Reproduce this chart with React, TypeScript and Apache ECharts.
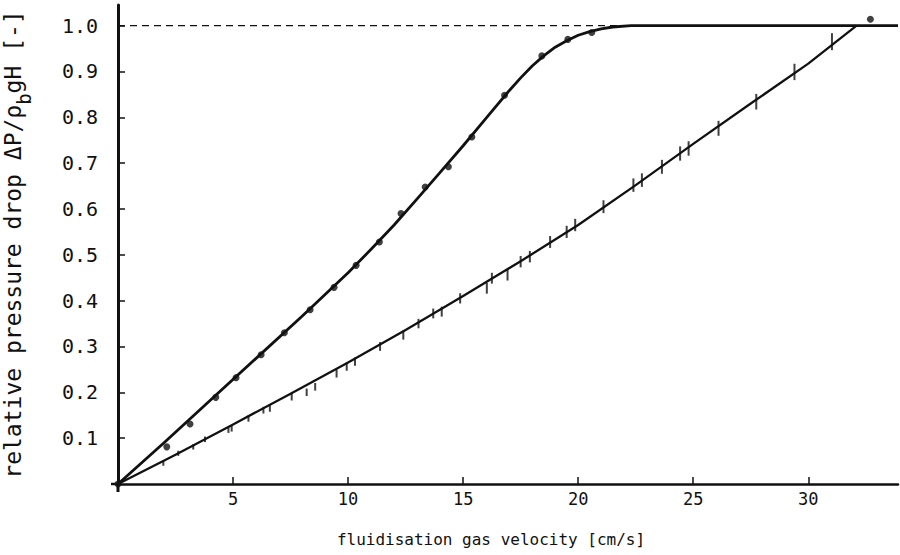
import { useEffect, useRef } from "react";
import * as echarts from "echarts";

// Axis tick positions
const velocityTicks = [5, 10, 15, 20, 25, 30];
const pressureTicks = [0.1, 0.2, 0.3, 0.4, 0.5, 0.6, 0.7, 0.8, 0.9, 1.0];

// Bed P: measured points (filled dots)
const pMeasuredVelocity = [0, 2.12, 3.13, 4.25, 5.13, 6.22, 7.23, 8.35, 9.39, 10.35, 11.36, 12.3, 13.35, 14.36, 15.38, 16.8, 18.42, 19.55, 20.59, 32.7];
const pMeasuredDrop = [0, 0.081, 0.131, 0.189, 0.232, 0.282, 0.33, 0.38, 0.429, 0.477, 0.528, 0.59, 0.648, 0.692, 0.757, 0.848, 0.934, 0.97, 0.985, 1.014];

// Bed P: drawn fit curve
const pCurveVelocity = [0, 2, 4, 6, 8, 10, 11, 12, 13, 14, 15, 16, 16.5, 17, 17.5, 18, 18.5, 19, 19.5, 20, 20.5, 21, 21.5, 22.3, 33.9];
const pCurveDrop = [0, 0.09, 0.182, 0.274, 0.366, 0.461, 0.512, 0.565, 0.622, 0.68, 0.738, 0.798, 0.828, 0.858, 0.886, 0.912, 0.934, 0.953, 0.967, 0.979, 0.987, 0.993, 0.997, 1.0, 1.0];

// Bed Q: measured points (short vertical bars)
const qMeasuredVelocity = [0, 1.97, 2.62, 3.27, 3.78, 4.8, 4.94, 5.67, 6.32, 6.6, 7.55, 8.2, 8.57, 9.5, 9.94, 10.3, 11.39, 12.4, 13.06, 13.7, 14.07, 14.87, 16.03, 16.25, 16.93, 17.5, 17.9, 18.78, 19.5, 19.87, 21.1, 22.4, 22.77, 23.64, 24.43, 24.8, 26.1, 27.74, 29.4, 31.03];
const qMeasuredDrop = [0, 0.045, 0.067, 0.081, 0.0975, 0.118, 0.121, 0.143, 0.161, 0.165, 0.19, 0.2, 0.212, 0.241, 0.256, 0.267, 0.3, 0.325, 0.35, 0.372, 0.376, 0.405, 0.427, 0.449, 0.456, 0.485, 0.496, 0.528, 0.55, 0.565, 0.605, 0.652, 0.663, 0.692, 0.721, 0.732, 0.776, 0.834, 0.899, 0.965];

// Bed Q: drawn fit curve
const qCurveVelocity = [0, 2.5, 5, 7.5, 10, 12.5, 15, 17.5, 20, 22.5, 25, 27.5, 30, 32.1];
const qCurveDrop = [0, 0.064, 0.13, 0.197, 0.265, 0.336, 0.41, 0.486, 0.565, 0.652, 0.742, 0.83, 0.917, 1.0];

// Full-bed-weight reference level (dashed up to where P levels off)
const fullWeightVelocity = [0, 22.3];
const fullWeightDrop = [1.0, 1.0];

const zip = (xs: number[], ys: number[]) => xs.map((x, i) => [x, ys[i]]);

export default function App() {
  const ref = useRef<HTMLDivElement>(null);

  useEffect(() => {
    if (!ref.current) return;
    const chart = echarts.init(ref.current, null, { renderer: "svg" });
    const font = "'DejaVu Sans Mono', 'Liberation Mono', monospace";
    const ink = "#111";
    const grid = { left: 118, right: 2, top: 5, bottom: 71, containLabel: false, outerBoundsMode: "none" };
    const originX = grid.left;
    const originY = 555 - grid.bottom;

    chart.setOption({
      animation: false,
      backgroundColor: "#fff",
      grid,
      // small overhangs of the two axis lines past the origin
      graphic: [
        { type: "line", shape: { x1: originX, y1: originY, x2: originX, y2: originY + 8 }, style: { stroke: ink, lineWidth: 3 } },
        { type: "line", shape: { x1: originX - 7, y1: originY, x2: originX, y2: originY }, style: { stroke: ink, lineWidth: 2.5 } },
      ],
      xAxis: {
        type: "value",
        min: 0,
        max: 33.9,
        axisLine: { onZero: false, lineStyle: { color: ink, width: 2.5 } },
        axisTick: { inside: true, length: 7, customValues: velocityTicks, lineStyle: { color: ink, width: 1.5 } },
        axisLabel: { customValues: velocityTicks, margin: 6, fontFamily: font, fontSize: 17, color: ink },
        splitLine: { show: false },
        name: "fluidisation gas velocity [cm/s]",
        nameLocation: "middle",
        nameGap: 47,
        nameTextStyle: { fontFamily: font, fontSize: 16, color: ink, padding: [0, 34, 0, 0] },
      },
      yAxis: {
        type: "value",
        min: 0,
        max: 1.045,
        axisLine: { onZero: false, lineStyle: { color: ink, width: 3 } },
        axisTick: { inside: true, length: 7, customValues: pressureTicks, lineStyle: { color: ink, width: 1.5 } },
        axisLabel: {
          customValues: pressureTicks,
          margin: 20,
          fontFamily: font,
          fontSize: 20,
          color: ink,
          formatter: (v: number) => v.toFixed(1),
        },
        splitLine: { show: false },
        name: "relative pressure drop ΔP/ρ{sub|b}gH [-]",
        nameLocation: "middle",
        nameGap: 94,
        nameTextStyle: {
          fontFamily: font,
          fontSize: 23,
          color: ink,
          rich: {
            sub: { fontFamily: font, fontSize: 19, color: ink, verticalAlign: "bottom", padding: [0, 0, -9, 0] },
          },
        },
      },
      series: [
        {
          name: "full bed weight",
          type: "line",
          data: zip(fullWeightVelocity, fullWeightDrop),
          symbol: "none",
          lineStyle: { color: ink, width: 1.2, type: [7, 5] },
          silent: true,
        },
        {
          name: "P fit",
          type: "line",
          data: zip(pCurveVelocity, pCurveDrop),
          symbol: "none",
          lineStyle: { color: ink, width: 2.8, join: "round" },
          markPoint: {
            symbol: "none",
            data: [{ coord: [10.87, 0.58], value: "P" }],
            label: { show: true, formatter: "P", fontFamily: font, fontSize: 18, color: ink },
          },
        },
        {
          name: "Q fit",
          type: "line",
          data: zip(qCurveVelocity, qCurveDrop),
          symbol: "none",
          lineStyle: { color: ink, width: 2.3, join: "round" },
          markPoint: {
            symbol: "none",
            data: [{ coord: [22.04, 0.571], value: "Q" }],
            label: { show: true, formatter: "Q", fontFamily: font, fontSize: 18, color: ink },
          },
        },
        {
          name: "P measured",
          type: "scatter",
          data: zip(pMeasuredVelocity, pMeasuredDrop),
          symbol: "circle",
          symbolSize: 7,
          itemStyle: { color: ink },
        },
        {
          name: "Q measured",
          type: "scatter",
          data: zip(qMeasuredVelocity, qMeasuredDrop),
          symbol: "rect",
          symbolSize: (d: number[]) => [2, 4 + d[0] * 0.42],
          itemStyle: { color: ink },
        },
      ],
    });

    return () => chart.dispose();
  }, []);

  return (
    <div
      ref={ref}
      style={{ position: "fixed", left: 0, top: 0, width: 900, height: 555, background: "#fff" }}
    />
  );
}
